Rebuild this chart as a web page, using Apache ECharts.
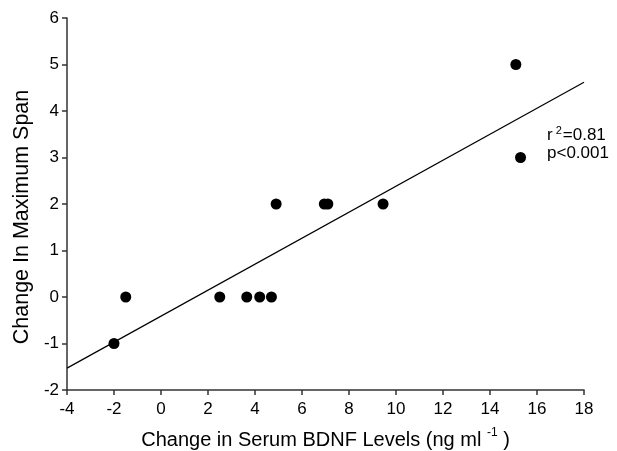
<!DOCTYPE html>
<html>
<head>
<meta charset="utf-8">
<script src="https://cdn.jsdelivr.net/npm/echarts@6/dist/echarts.min.js"></script>
<style>html,body{margin:0;padding:0;background:#fff}#c{width:617px;height:451px}</style>
</head>
<body>
<div id="c"></div>
<script>
const bdnfChange = [-2, -1.5, 2.5, 3.65, 4.2, 4.7, 4.9, 6.95, 7.1, 9.45, 15.1, 15.3];
const spanChange = [-1, 0, 0, 0, 0, 0, 2, 2, 2, 2, 5, 3];
const fitX = [-4, 18];
const fitY = [-1.53, 4.62];
const xTicks = [-4, -2, 0, 2, 4, 6, 8, 10, 12, 14, 16, 18];
const yTicks = [-2, -1, 0, 1, 2, 3, 4, 5, 6];

const chart = echarts.init(document.getElementById('c'));
const axisColor = '#333';
const font = 'Liberation Sans, Arial, Helvetica, sans-serif';
chart.setOption({
  animation: false,
  grid: {left: 67, right: 33, top: 18, bottom: 61, outerBoundsMode: 'none', containLabel: false},
  xAxis: {
    type: 'value', min: xTicks[0], max: xTicks[xTicks.length-1], interval: 2,
    splitLine: {show: false},
    axisLine: {onZero: false, lineStyle: {color: axisColor, width: 1.5}},
    axisTick: {lineStyle: {color: axisColor, width: 1.5}, length: 5},
    axisLabel: {color: '#000', fontSize: 17, fontFamily: font, margin: 11},
    name: '{n|Change in Serum BDNF Levels (ng ml }{s|-1}{n| )}',
    nameLocation: 'middle', nameGap: 36,
    nameTextStyle: {
      rich: {
        n: {fontSize: 20, fontFamily: font, color: '#000', verticalAlign: 'bottom', lineHeight: 24},
        s: {fontSize: 12, fontFamily: font, color: '#000', verticalAlign: 'bottom', lineHeight: 13, padding: [0,0,11,0]}
      }
    }
  },
  yAxis: {
    type: 'value', min: yTicks[0], max: yTicks[yTicks.length-1], interval: 1,
    splitLine: {show: false},
    axisLine: {show: true, onZero: false, lineStyle: {color: axisColor, width: 1.5}},
    axisTick: {show: true, lineStyle: {color: axisColor, width: 1.5}, length: 5},
    axisLabel: {color: '#000', fontSize: 17, fontFamily: font, margin: 8},
    name: 'Change In Maximum Span',
    nameLocation: 'middle', nameGap: 34,
    nameTextStyle: {fontSize: 21.5, fontFamily: font, color: '#000', padding: [0, 26, 0, 0]}
  },
  series: [
    {
      type: 'line', data: fitX.map((x, i) => [x, fitY[i]]),
      symbol: 'none', lineStyle: {color: '#000', width: 1.2}, silent: true
    },
    {
      type: 'scatter', data: bdnfChange.map((x, i) => [x, spanChange[i]]),
      symbolSize: 11, itemStyle: {color: '#000', opacity: 1}
    }
  ],
  graphic: [
    {
      type: 'text', left: 547, top: 125,
      style: {
        text: '{n|r}{s|2}{n|=0.81}\n{n|p<0.001}',
        rich: {
          n: {fontSize: 17, fontFamily: font, fill: '#000', lineHeight: 18, verticalAlign: 'bottom'},
          s: {fontSize: 11, fontFamily: font, fill: '#000', lineHeight: 10, verticalAlign: 'bottom', padding: [0,1,8,3]}
        }
      }
    }
  ]
});
</script>
</body>
</html>
